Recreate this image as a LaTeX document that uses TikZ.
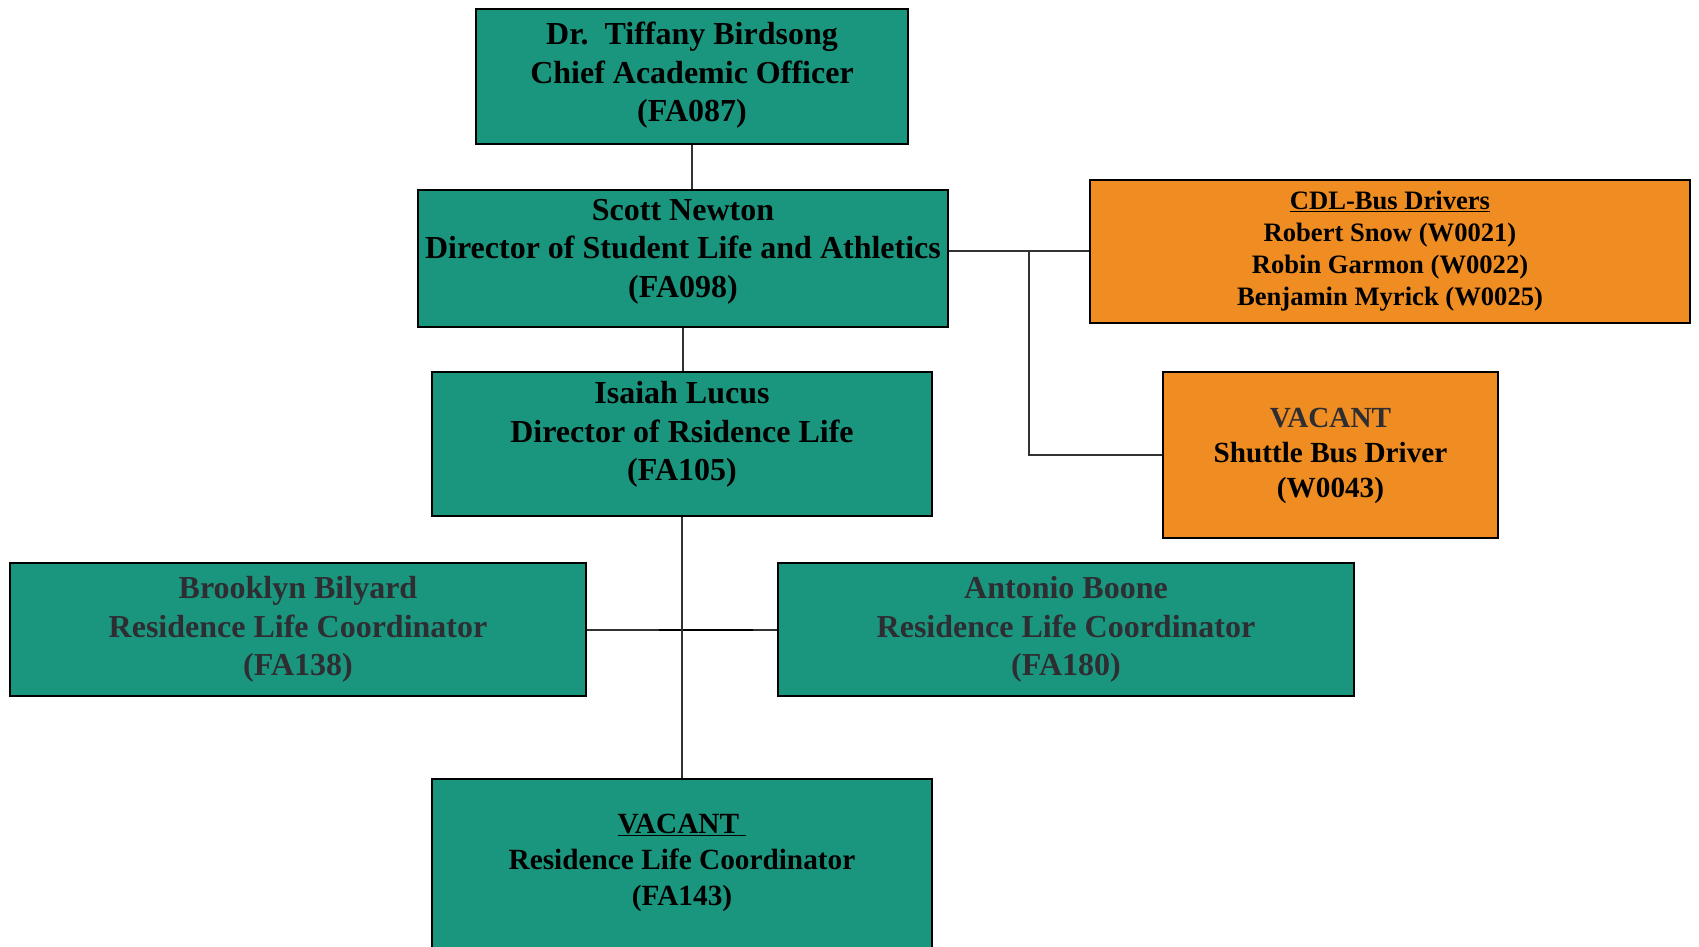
\documentclass[tikz,border=0pt]{standalone}
\usepackage{fontspec}
\setmainfont{Liberation Serif}
\definecolor{tealbg}{RGB}{27,150,126}
\definecolor{orangebg}{RGB}{239,141,34}
\definecolor{greytxt}{RGB}{45,45,50}
\definecolor{linegrey}{RGB}{50,50,50}
\tikzset{
  tealbox/.style={draw=black, fill=tealbg, line width=2.4pt, rectangle, inner sep=0pt},
  orangebox/.style={draw=black, fill=orangebg, line width=2.4pt, rectangle, inner sep=0pt},
  lbl/.style={align=center, font=\fontsize{32}{38.5}\selectfont\bfseries, text=black, inner sep=0pt},
  lblgrey/.style={lbl, text=greytxt},
  conn/.style={draw=linegrey, line width=1.3pt}
}
\begin{document}
\begin{tikzpicture}[x=1pt,y=-1pt]
\useasboundingbox (0,0) rectangle (1699,946);
\clip (0,0) rectangle (1699,946);
\fill[white] (0,0) rectangle (1699,946);
% boxes
\node[tealbox, minimum width=432pt, minimum height=135pt] (ceo) at (692,76.5) {};
\node[tealbox, minimum width=530pt, minimum height=137pt] (newton) at (683,258.5) {};
\node[orangebox, minimum width=600pt, minimum height=143pt] (cdl) at (1390,251.5) {};
\node[orangebox, minimum width=335pt, minimum height=166pt] (shuttle) at (1330.5,455) {};
\node[tealbox, minimum width=500pt, minimum height=144pt] (lucus) at (682,444) {};
\node[tealbox, minimum width=576pt, minimum height=133pt] (bilyard) at (298,629.5) {};
\node[tealbox, minimum width=576pt, minimum height=133pt] (boone) at (1066,629.5) {};
\node[tealbox, minimum width=500pt, minimum height=200pt] (vacant) at (682,879) {};
% connectors
\coordinate (j1) at (1029,251);
\coordinate (j2) at (1029,455);
\coordinate (hmid) at (682,630);
\draw[conn] (ceo.south) -- (ceo.south |- newton.north);
\draw[conn] (newton.south) -- (newton.south |- lucus.north);
\draw[conn] (newton.east |- j1) -- (j1) -- (cdl.west |- j1);
\draw[conn] (j1) -- (j2) -- (shuttle.west |- j2);
\draw[conn] (bilyard.east |- hmid) -- (boone.west |- hmid);
\draw[conn, line width=2pt, draw=black] ([xshift=-23pt]hmid) -- ([xshift=71pt]hmid);
\draw[conn] (lucus.south) -- (lucus.south |- vacant.north);
% labels
\node[lbl] (tceo) at ([yshift=1pt]ceo.center) {Dr.\ \ Tiffany Birdsong\\Chief Academic Officer\\(FA087)};
\node[lbl] (tnewton) at ([yshift=6.7pt]newton.center) {Scott Newton\\Director of Student Life and Athletics\\(FA098)};
\node[lbl, font=\fontsize{26.6}{31.8}\selectfont\bfseries] (tcdl) at ([yshift=0.3pt]cdl.center) {\underline{CDL-Bus Drivers}\\Robert Snow (W0021)\\Robin Garmon (W0022)\\Benjamin Myrick (W0025)};
\node[lbl, font=\fontsize{29.2}{35.2}\selectfont\bfseries] (tshuttle) at ([yshift=-0.7pt]shuttle.center) {\textcolor{greytxt}{VACANT}\\Shuttle Bus Driver\\(W0043)};
\node[lbl] (tlucus) at ([yshift=9.7pt]lucus.center) {Isaiah Lucus\\Director of Rsidence Life\\(FA105)};
\node[lblgrey] (tbilyard) at (bilyard.center) {Brooklyn Bilyard\\Residence Life Coordinator\\(FA138)};
\node[lblgrey] (tboone) at (boone.center) {Antonio Boone\\Residence Life Coordinator\\(FA180)};
\node[lbl, font=\fontsize{29.3}{35.8}\selectfont\bfseries] (tvacant) at (682,863) {\underline{VACANT\ }\\Residence Life Coordinator\\(FA143)};
\end{tikzpicture}
\end{document}
